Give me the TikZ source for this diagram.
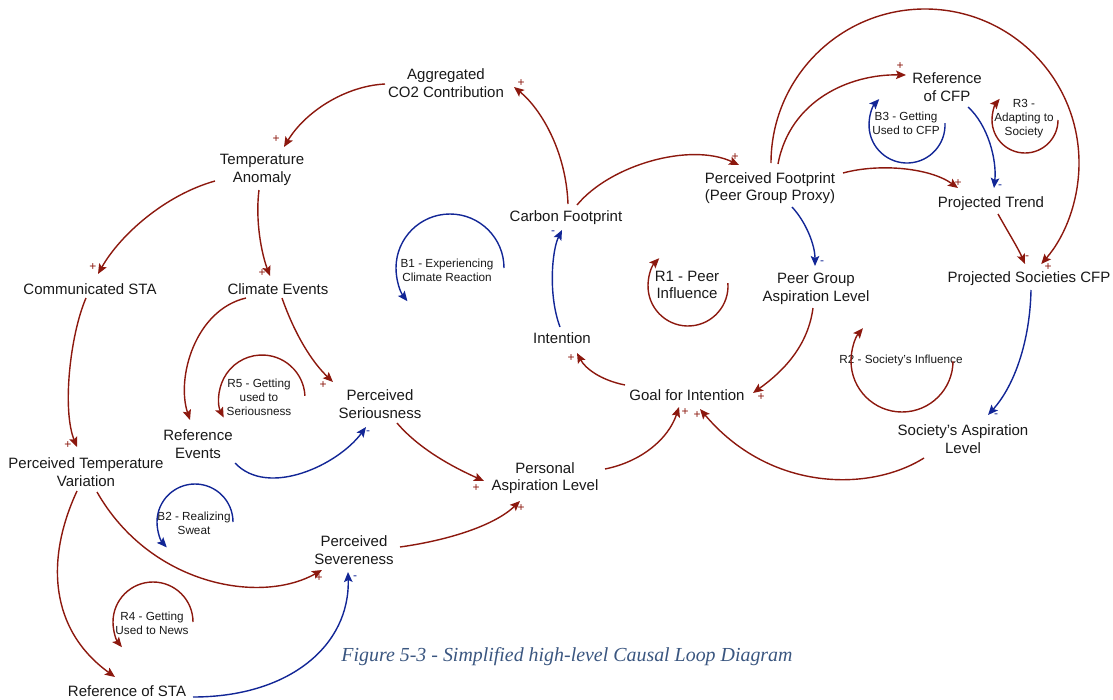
\documentclass[tikz,border=0pt]{standalone}
\usepackage{fontspec}
\setmainfont{Liberation Sans}
\newfontfamily\capfont{Liberation Serif}
\usetikzlibrary{arrows.meta,calc}

\definecolor{linkred}{RGB}{140,24,14}
\definecolor{linkblue}{RGB}{18,38,150}
\definecolor{captionblue}{RGB}{58,86,128}
\definecolor{ink}{RGB}{25,25,25}

\tikzset{
  var/.style={font=\fontsize{15}{17.5}\selectfont, text=ink, align=center, inner sep=0pt},
  looplabel/.style={font=\fontsize{11.75}{14}\selectfont, text=ink, align=center, inner sep=0pt},
  tip/.style={-{Stealth[length=10pt,width=8.5pt,inset=2pt]}},
  pos link/.style={draw=linkred, line width=1.4pt, tip},
  neg link/.style={draw=linkblue, line width=1.4pt, tip},
  red loop/.style={draw=linkred, line width=1.4pt, tip},
  blue loop/.style={draw=linkblue, line width=1.4pt, tip},
  sgn/.style={font=\fontsize{12}{12}\selectfont, inner sep=0pt},
  plus/.style={sgn, text=linkred},
  minus/.style={sgn, text=linkblue},
  caption/.style={text=captionblue, inner sep=0pt},
}

\begin{document}
\begin{tikzpicture}[x=1pt, y=1pt, yscale=-1]
\useasboundingbox (0,0) rectangle (1113,699);

% ---- variables ----
\node[var] (agg)   at (446,83)  {Aggregated\\CO2 Contribution};
\node[var] (ta)    at (262,170) {Temperature\\Anomaly};
\node[var] (csta)  at (90,289)  {Communicated STA};
\node[var] (ce)    at (278,289) {Climate Events};
\node[var] (ptv)   at (86,472)  {Perceived Temperature\\Variation};
\node[var] (re)    at (198,444) {Reference\\Events};
\node[var] (ps)    at (380,404) {Perceived\\Seriousness};
\node[var] (cf)    at (566,218) {Carbon Footprint};
\node[var] (int)   at (562,338) {Intention};
\node[var] (pf)    at (770,188) {Perceived Footprint\\(Peer Group Proxy)};
\node[var] (rcfp)  at (947,87)  {Reference\\of CFP};
\node[var] (pt)    at (991,204) {Projected Trend};
\node[var] (pgal)  at (816,289) {Peer Group\\Aspiration Level};
\node[var] (pscfp) at (1029,279) {Projected Societies CFP};
\node[var] (goal)  at (687,395) {Goal for Intention};
\node[var] (sal)   at (963,439) {Society's Aspiration\\Level};
\node[var] (pal)   at (545,478) {Personal\\Aspiration Level};
\node[var] (psev)  at (354,550) {Perceived\\Severeness};
\node[var] (rsta)  at (127,691) {Reference of STA};

% ---- loop labels ----
\node[looplabel] (lb1) at (447,270) {B1 - Experiencing\\Climate Reaction};
\node[var]       (lr1) at (687,285) {R1 - Peer\\Influence};
\node[looplabel] (lb3) at (906,123) {B3 - Getting\\Used to CFP};
\node[looplabel] (lr3) at (1024,119) {R3 -\\Adapting to\\Society};
\node[looplabel] (lr2) at (901,360) {R2 - Society's Influence};
\node[looplabel] (lr5) at (259,397) {R5 - Getting\\used to\\Seriousness};
\node[looplabel] (lb2) at (194,523) {B2 - Realizing\\Sweat};
\node[looplabel] (lr4) at (152,623) {R4 - Getting\\Used to News};

% ---- loop arrows ----
\draw[blue loop] (450,268)  ++(0:54)  arc[start angle=0,  end angle=-218, radius=54];
\draw[red loop]  (688,286)  ++(-4:40) arc[start angle=-4, end angle=224,  radius=40];
\draw[blue loop] (907,125)  ++(-3:38) arc[start angle=-3, end angle=223,  radius=38];
\draw[red loop]  (1025,120) ++(0:33)  arc[start angle=0,  end angle=220,  radius=33];
\draw[red loop]  (902,361)  ++(0:51)  arc[start angle=0,  end angle=220,  radius=51];
\draw[red loop]  (262,398)  ++(-3:43) arc[start angle=-3, end angle=-207, radius=43];
\draw[blue loop] (195,522)  ++(0:38)  arc[start angle=0,  end angle=-222, radius=38];
\draw[red loop]  (153,622)  ++(0:40)  arc[start angle=0,  end angle=-219, radius=40];

% ---- causal links ----
\draw[pos link] ($(cf)+(2,-14)$) .. controls (566,150) and (540,108) .. ($(agg)+(68,4)$);
\draw[pos link] ($(agg)+(-61,1)$) .. controls (345,86) and (305,112) .. ($(ta)+(22,-23)$);
\draw[pos link] ($(ta)+(-47,11)$) .. controls (165,195) and (120,235) .. ($(csta)+(8,-15)$);
\draw[pos link] ($(ta)+(-3,20)$) .. controls (255,222) and (262,255) .. ($(ce)+(-8,-13)$);
\draw[pos link] ($(csta)+(-4,9)$) .. controls (70,335) and (62,410) .. ($(ptv)+(-9,-25)$);
\draw[pos link] ($(ce)+(-32,9)$) .. controls (195,310) and (176,378) .. ($(re)+(-8,-24)$);
\draw[pos link] ($(ce)+(4,9)$) .. controls (295,335) and (312,362) .. ($(ps)+(-47,-22)$);
\draw[neg link] ($(re)+(37,19)$) .. controls (268,498) and (338,465) .. ($(ps)+(-14,23)$);
\draw[pos link] ($(ps)+(17,19)$) .. controls (420,450) and (455,468) .. ($(pal)+(-61,3)$);
\draw[pos link] ($(ptv)+(11,20)$) .. controls (150,585) and (260,605) .. ($(psev)+(-32,20)$);
\draw[pos link] ($(ptv)+(-9,19)$) .. controls (45,560) and (50,630) .. ($(rsta)+(-12,-14)$);
\draw[neg link] ($(rsta)+(66,6)$) .. controls (290,697) and (350,645) .. ($(psev)+(-6,22)$);
\draw[pos link] ($(psev)+(46,-3)$) .. controls (450,540) and (495,525) .. ($(pal)+(-25,23)$);
\draw[pos link] ($(pal)+(60,-9)$) .. controls (640,462) and (668,440) .. ($(goal)+(-8,12)$);
\draw[pos link] ($(goal)+(-62,-10)$) .. controls (600,380) and (585,368) .. ($(int)+(15,15)$);
\draw[neg link] ($(int)+(-2,-11)$) .. controls (548,295) and (552,250) .. ($(cf)+(-4,12)$);
\draw[pos link] ($(cf)+(11,-13)$) .. controls (610,165) and (690,142) .. ($(pf)+(-31,-23)$);
\draw[pos link] ($(pf)+(8,-24)$) .. controls (790,100) and (850,74) .. ($(rcfp)+(-41,-12)$);
\draw[pos link] ($(pf)+(1,-25)$) arc[start angle=180, end angle=401, radius=154];
\draw[pos link] ($(pf)+(73,-15)$) .. controls (880,163) and (930,168) .. ($(pt)+(-33,-16)$);
\draw[neg link] ($(rcfp)+(21,20)$) .. controls (988,125) and (997,160) .. ($(pt)+(3,-16)$);
\draw[pos link] ($(pt)+(7,10)$) .. controls (1008,232) and (1018,248) .. ($(pscfp)+(-4,-15)$);
\draw[neg link] ($(pf)+(22,19)$) .. controls (806,222) and (815,245) .. ($(pgal)+(-1,-23)$);
\draw[pos link] ($(pgal)+(-3,19)$) .. controls (808,345) and (785,370) .. ($(goal)+(66,-2)$);
\draw[neg link] ($(pscfp)+(2,11)$) .. controls (1030,340) and (1015,385) .. ($(sal)+(25,-24)$);
\draw[pos link] ($(sal)+(-39,19)$) .. controls (870,492) and (770,492) .. ($(goal)+(13,14)$);

% ---- link polarities ----
\node[plus]  (s1)  at (521,83)  {+};
\node[plus]  (s2)  at (276,139) {+};
\node[plus]  (s3)  at (93,267)  {+};
\node[plus]  (s4)  at (262,273) {+};
\node[plus]  (s5)  at (68,445)  {+};
\node[plus]  (s7)  at (323,385) {+};
\node[minus] (s8)  at (368,433) {-};
\node[plus]  (s9)  at (476,488) {+};
\node[plus]  (s10) at (319,578) {+};
\node[minus] (s12) at (355,578) {-};
\node[plus]  (s13) at (521,508) {+};
\node[plus]  (s14) at (685,412) {+};
\node[plus]  (s15) at (571,358) {+};
\node[minus] (s16) at (553,233) {-};
\node[plus]  (s17) at (735,157) {+};
\node[plus]  (s18) at (900,66)  {+};
\node[plus]  (s19) at (1048,267) {+};
\node[plus]  (s20) at (958,183) {+};
\node[minus] (s21) at (1000,187) {-};
\node[sgn, text=linkred] (s22) at (1027,258) {-};
\node[minus] (s23) at (822,263) {-};
\node[plus]  (s24) at (761,397) {+};
\node[minus] (s25) at (996,416) {-};
\node[plus]  (s26) at (697,415) {+};

% ---- caption ----
\node[caption] (cap) at (567,657)
  {\resizebox{451pt}{!}{\capfont\itshape Figure 5-3 - Simplified high-level Causal Loop Diagram}};
\end{tikzpicture}
\end{document}
